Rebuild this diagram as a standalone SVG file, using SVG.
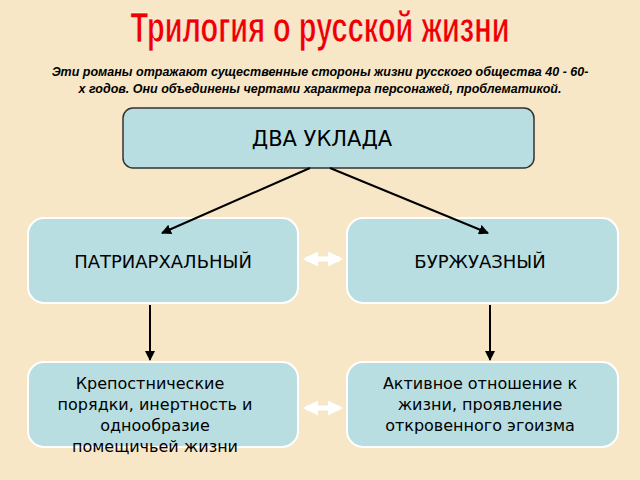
<svg xmlns="http://www.w3.org/2000/svg" width="640" height="480" viewBox="0 0 640 480">
<defs>
<marker id="ah" viewBox="0 0 10 10" refX="9" refY="5" markerWidth="5" markerHeight="5" orient="auto"><path d="M0,0 L10,5 L0,10 z" fill="#000"/></marker>
<marker id="wh" viewBox="0 0 10 10" refX="8" refY="5" markerWidth="3" markerHeight="3" orient="auto-start-reverse"><path d="M0,0 L10,5 L0,10 z" fill="#fff"/></marker>
</defs>
<style>
.box{fill:#b8dee2;stroke:#fff;stroke-width:2}
.t{font-family:"DejaVu Sans",sans-serif;font-size:16px;fill:#000;text-anchor:middle}
.b{font-size:18px}
.c{stroke:#000;stroke-width:2;fill:none;marker-end:url(#ah)}
.w{stroke:#fff;stroke-width:5;marker-start:url(#wh);marker-end:url(#wh)}
</style>
<rect width="640" height="480" fill="#f7e7c6"/>
<text x="320" y="42" text-anchor="middle" font-family="'Liberation Sans',sans-serif" font-size="42" font-weight="bold" fill="#ee0000" stroke="#fff" stroke-width="0.6" transform="translate(320 0) scale(0.69 1) translate(-320 0)">Трилогия о русской жизни</text>
<text x="320" y="76" text-anchor="middle" font-family="'Liberation Sans',sans-serif" font-size="12.5" font-weight="bold" font-style="italic">Эти романы отражают существенные стороны жизни русского общества 40 - 60-</text>
<text x="320" y="93" text-anchor="middle" font-family="'Liberation Sans',sans-serif" font-size="12.5" font-weight="bold" font-style="italic">х годов. Они объединены чертами характера персонажей, проблематикой.</text>
<g id="top"><rect x="123" y="108" width="411" height="60" rx="10" fill="#b8dee2" stroke="#333" stroke-width="1.5"/><text class="t" x="322" y="146" style="font-size:21px">ДВА УКЛАДА</text></g>
<g id="left"><rect class="box" x="28" y="218" width="270" height="85" rx="16"/><text class="t b" x="163" y="268">ПАТРИАРХАЛЬНЫЙ</text></g>
<g id="right"><rect class="box" x="347" y="218" width="271" height="85" rx="16"/><text class="t b" x="480" y="268">БУРЖУАЗНЫЙ</text></g>
<g id="bl"><rect class="box" x="28" y="362" width="270" height="85" rx="16"/><text class="t" x="150" y="389">Крепостнические</text><text class="t" x="155" y="410">порядки, инертность и</text><text class="t" x="155" y="431">однообразие</text><text class="t" x="155" y="452">помещичьей жизни</text></g>
<g id="br"><rect class="box" x="347" y="362" width="271" height="85" rx="16"/><text class="t" x="480" y="389">Активное отношение к</text><text class="t" x="480" y="410">жизни, проявление</text><text class="t" x="480" y="431">откровенного эгоизма</text></g>
<g id="connectors">
<line class="c" x1="310" y1="168" x2="162" y2="233"/>
<line class="c" x1="330" y1="168" x2="488" y2="233"/>
<line class="c" x1="150" y1="305" x2="150" y2="360"/>
<line class="c" x1="490" y1="305" x2="490" y2="360"/>
<line class="w" x1="306" y1="259" x2="340" y2="259"/>
<line class="w" x1="306" y1="408" x2="340" y2="408"/>
</g>
</svg>
